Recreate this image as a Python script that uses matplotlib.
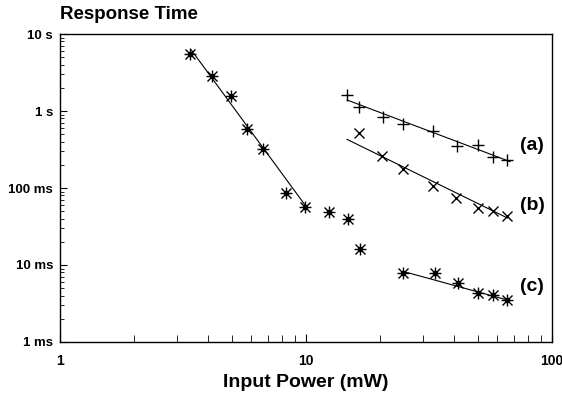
import matplotlib
matplotlib.use("Agg")
import matplotlib.pyplot as plt
import numpy as np
from matplotlib.ticker import FixedLocator, NullFormatter, LogLocator

plt.rcParams["font.family"] = ["Liberation Sans", "DejaVu Sans"]

# input power in mW, response time in ms
power_left = [3.38, 4.15, 4.95, 5.78, 6.68, 8.3, 9.93, 12.4, 14.9, 16.6]
time_left = [5500, 2850, 1570, 583, 321, 85, 57, 49, 39.5, 16.1]

power_a = [14.7, 16.5, 20.6, 24.9, 33.0, 41.1, 49.9, 57.6, 66.0]
time_a = [1614, 1127, 836, 678, 550, 354, 361, 255, 231]

power_b = [16.5, 20.3, 24.9, 33.0, 40.7, 49.9, 57.6, 66.0]
time_b = [522, 262, 175, 106, 73.5, 55.5, 50.2, 43.3]

power_c = [24.9, 33.5, 41.5, 50.3, 57.9, 65.6]
time_c = [7.95, 7.8, 5.78, 4.37, 4.07, 3.51]

# fitted lines (end points)
fit_left_x = [3.42, 10.0]
fit_left_y = [6200, 58]
fit_a_x = [14.7, 67.7]
fit_a_y = [1390, 220]
fit_b_x = [14.7, 66.0]
fit_b_y = [428, 40.8]
fit_c_x = [24.9, 66.0]
fit_c_y = [8.24, 3.51]

ytick_vals = [1, 10, 100, 1000, 10000]
ytick_labels = ["1 ms", "10 ms", "100 ms", "1 s", "10 s"]
xtick_vals = [1, 10, 100]
xtick_labels = ["1", "10", "100"]

curve_labels = ["(a)", "(b)", "(c)"]
curve_label_y = [361, 60, 5.2]


def asterisk(ax, x, y):
    ax.plot(x, y, ls="none", marker="+", ms=9, mew=1.0, color="black")
    ax.plot(x, y, ls="none", marker="x", ms=6.5, mew=1.0, color="black")
    ax.plot(x, y, ls="none", marker="o", ms=3, color="black")


fig = plt.figure(figsize=(5.62, 3.95), dpi=100)
ax = fig.add_axes([0.1068, 0.1342, 0.875, 0.7797])

ax.set_xscale("log")
ax.set_yscale("log")
ax.set_xlim(1, 100)
ax.set_ylim(1, 10000)

for fx, fy in [(fit_left_x, fit_left_y), (fit_a_x, fit_a_y),
               (fit_b_x, fit_b_y), (fit_c_x, fit_c_y)]:
    ax.plot(fx, fy, color="black", lw=0.8)

asterisk(ax, power_left, time_left)
asterisk(ax, power_c, time_c)
ax.plot(power_a, time_a, ls="none", marker="+", ms=9, mew=1.0, color="black")
ax.plot(power_b, time_b, ls="none", marker="x", ms=6.5, mew=1.0, color="black")

for lab, ly in zip(curve_labels, curve_label_y):
    ax.text(74.4, ly, lab, fontsize=14, fontweight="bold", va="center", ha="left")

ax.yaxis.set_major_locator(FixedLocator(ytick_vals))
ax.set_yticklabels(ytick_labels, fontsize=9.5, fontweight="bold")
ax.yaxis.set_minor_locator(LogLocator(base=10, subs=np.arange(2, 10)))
ax.yaxis.set_minor_formatter(NullFormatter())

ax.xaxis.set_major_locator(FixedLocator(xtick_vals))
ax.set_xticklabels(xtick_labels, fontsize=10, fontweight="bold")
ax.xaxis.set_minor_locator(LogLocator(base=10, subs=np.arange(2, 10)))
ax.xaxis.set_minor_formatter(NullFormatter())

ax.tick_params(which="both", direction="in", top=False, right=False)
ax.tick_params(axis="y", which="major", length=5, pad=5)
ax.tick_params(axis="y", which="minor", length=3)
ax.tick_params(axis="x", which="major", length=6, pad=9)
ax.tick_params(axis="x", which="minor", length=5)

for s in ax.spines.values():
    s.set_linewidth(1.0)

ax.set_xlabel("Input Power (mW)", fontsize=14, fontweight="bold", labelpad=4)
fig.text(0.107, 0.942, "Response Time", fontsize=13.5, fontweight="bold",
         ha="left", va="bottom")

fig.savefig("out.png", dpi=100)
